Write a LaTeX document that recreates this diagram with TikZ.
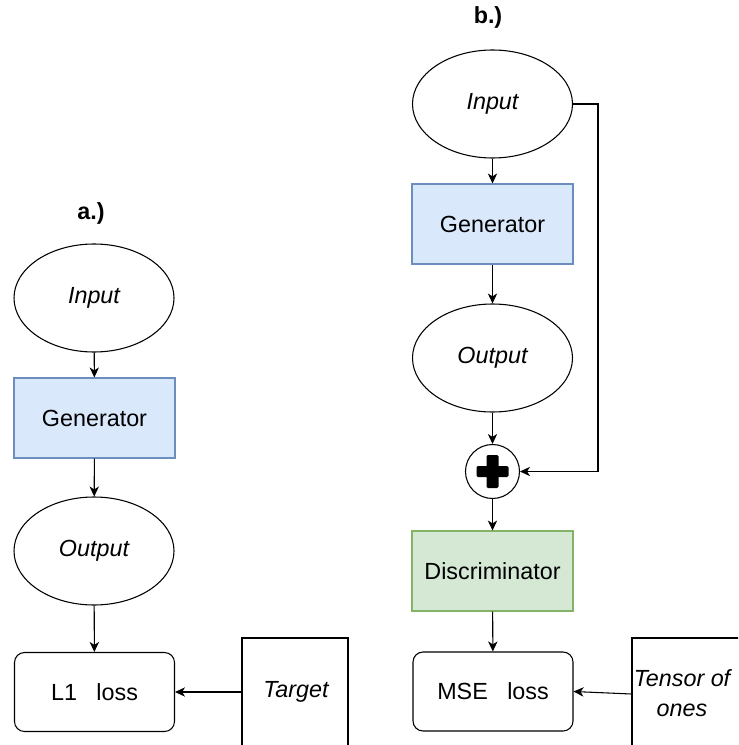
\documentclass[tikz,border=0pt]{standalone}
\usepackage{fontspec}
\setmainfont{Liberation Sans}
\usetikzlibrary{shapes.geometric,arrows.meta}
\definecolor{genfill}{HTML}{DAE8FC}
\definecolor{gendraw}{HTML}{6C8EBF}
\definecolor{discfill}{HTML}{D5E8D4}
\definecolor{discdraw}{HTML}{82B366}
\tikzset{
  every node/.style={font=\fontsize{17.5}{22.5}\selectfont, inner sep=0pt},
  ell/.style={draw, ellipse, line width=0.8pt, minimum width=120pt, minimum height=81pt, font=\fontsize{17.5}{22.5}\selectfont\itshape},
  genbox/.style={draw=gendraw, fill=genfill, line width=0.8pt, minimum width=120.75pt, minimum height=60pt},
  discbox/.style={draw=discdraw, fill=discfill, line width=0.8pt, minimum width=120.75pt, minimum height=60pt},
  lossbox/.style={draw, rounded corners=7.5pt, line width=0.8pt, minimum width=120pt, minimum height=59.25pt},
  sqbox/.style={draw, line width=0.8pt},
  lbl/.style={font=\fontsize{17.5}{22.5}\selectfont\bfseries},
  arr/.style={draw, line width=0.8pt, -{Stealth[length=7.5pt,width=7pt,inset=2.2pt]}},
}
\begin{document}
\begin{tikzpicture}[x=0.75pt,y=-0.75pt]
\path[use as bounding box] (0,0) rectangle (738,745);
\clip (0,0) rectangle (738,745);
% ---- a.)
\node[lbl] (alabel) at (91,213) {a.)};
\node[ell] (ain) at (94,298) {Input};
\node[genbox] (agen) at (94.5,418) {Generator};
\node[ell] (aout) at (94,551) {Output};
\node[lossbox] (aloss) at (94.5,692) {L1\ \ \ loss};
\node[sqbox, minimum width=79.5pt, minimum height=81pt] (atarget) at (295,692) {};
\node[font=\fontsize{17.5}{22.5}\selectfont\itshape] (atargettext) at (296,692) {Target};
\draw[arr] (ain) -- (agen);
\draw[arr] (agen) -- (aout);
\draw[arr] (aout) -- (aloss);
\draw[arr] (atarget.west) -- (aloss.east);
% ---- b.)
\node[lbl] (blabel) at (488,17) {b.)};
\node[ell] (bin) at (492.5,104) {Input};
\node[genbox] (bgen) at (492.5,224) {Generator};
\node[ell] (bout) at (492.5,358) {Output};
\node[draw, circle, line width=0.8pt, minimum size=40.5pt] (plus) at (492.5,471.5) {};
\fill[rounded corners=1pt] ([shift={(-16,-5.5)}]plus.center) rectangle ([shift={(16,5.5)}]plus.center);
\fill[rounded corners=1pt] ([shift={(-6,-16.5)}]plus.center) rectangle ([shift={(6,16.5)}]plus.center);
\node[discbox] (bdisc) at (492.5,571) {Discriminator};
\node[lossbox] (bloss) at (493,691.5) {MSE\ \ \ loss};
\node[sqbox, minimum width=84.75pt, minimum height=84pt] (btensor) at (688.5,694) {};
\node[align=center, font=\fontsize{17.5}{22.5}\selectfont\itshape] (btensortext) at (682,693) {Tensor of\\ones};
\coordinate (corner1) at (598,104);
\coordinate (corner2) at (598,471.5);
\draw[arr] (bin) -- (bgen);
\draw[arr] (bgen) -- (bout);
\draw[arr] (bout) -- (plus);
\draw[arr] (plus) -- (bdisc);
\draw[arr] (bdisc) -- (bloss);
\draw[arr] (bin.east) -- (corner1) -- (corner2) -- (plus.east);
\draw[arr] (btensor.west) -- (bloss.east);
\end{tikzpicture}
\end{document}
